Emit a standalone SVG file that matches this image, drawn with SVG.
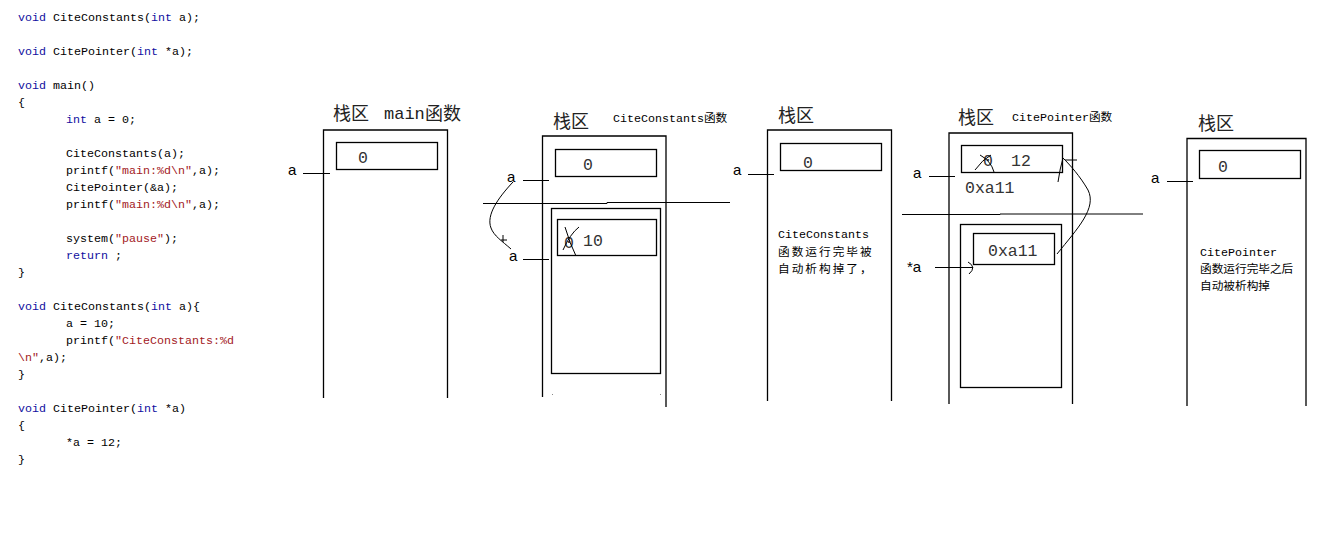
<svg xmlns="http://www.w3.org/2000/svg" width="1317" height="546" viewBox="0 0 1317 546">
<style>
.code{font-family:"Liberation Mono","Noto Sans CJK SC",monospace;font-size:11.67px;fill:#000;white-space:pre}
.kw{fill:#1010a0}
.str{fill:#a3201e}
.frame{fill:none;stroke:#000;stroke-width:1.3}
.box{fill:#fff;stroke:#000;stroke-width:1.3}
.val{font-family:"Liberation Mono",monospace;font-size:16.5px;fill:#333}
.lbl{font-family:"Liberation Sans",Arial,sans-serif;font-size:15px;fill:#000}
.title{font-family:"Noto Sans CJK SC","Noto Sans CJK JP",sans-serif;font-size:18px;fill:#222}
.sub{font-family:"Liberation Mono","Noto Sans CJK SC",monospace;font-size:11.67px;fill:#000}
.note{font-family:"Liberation Mono","Noto Sans CJK SC",monospace;font-size:11.67px;fill:#000}
.ln{fill:none;stroke:#000;stroke-width:1}
</style>
<g id="code" class="code">
<text x="18" y="21"><tspan class="kw">void</tspan> CiteConstants(<tspan class="kw">int</tspan> a);</text>
<text x="18" y="55"><tspan class="kw">void</tspan> CitePointer(<tspan class="kw">int</tspan> *a);</text>
<text x="18" y="89"><tspan class="kw">void</tspan> main()</text>
<text x="18" y="106">{</text>
<text x="66" y="123"><tspan class="kw">int</tspan> a = 0;</text>
<text x="66" y="157">CiteConstants(a);</text>
<text x="66" y="174">printf(<tspan class="str">"main:%d\n"</tspan>,a);</text>
<text x="66" y="191">CitePointer(&amp;a);</text>
<text x="66" y="208">printf(<tspan class="str">"main:%d\n"</tspan>,a);</text>
<text x="66" y="242">system(<tspan class="str">"pause"</tspan>);</text>
<text x="66" y="259"><tspan class="kw">return</tspan> ;</text>
<text x="18" y="276">}</text>
<text x="18" y="310"><tspan class="kw">void</tspan> CiteConstants(<tspan class="kw">int</tspan> a){</text>
<text x="66" y="327">a = 10;</text>
<text x="66" y="344">printf(<tspan class="str">"CiteConstants:%d</tspan></text>
<text x="18" y="361"><tspan class="str">\n"</tspan>,a);</text>
<text x="18" y="378">}</text>
<text x="18" y="412"><tspan class="kw">void</tspan> CitePointer(<tspan class="kw">int</tspan> *a)</text>
<text x="18" y="429">{</text>
<text x="66" y="446">*a = 12;</text>
<text x="18" y="463">}</text>
</g>

<g id="stack1">
<text class="title" x="333" y="120">栈区</text>
<text x="384" y="119" font-family="Liberation Mono,monospace" font-size="17" fill="#222">main</text>
<text class="title" x="425" y="120">函数</text>
<path class="frame" d="M323.5,398 V130 H447.5 V398"/>
<rect class="box" x="336.5" y="142.5" width="101" height="27"/>
<text class="val" x="358" y="163">0</text>
<text class="lbl" x="288" y="175">a</text>
</g>

<g id="stack2">
<text class="title" x="553" y="128">栈区</text>
<text class="sub" x="613" y="122">CiteConstants函数</text>
<path class="frame" d="M542.5,397 V136 H666 V407"/>
<rect class="box" x="555.5" y="149.5" width="101" height="27"/>
<text class="val" x="583" y="170">0</text>
<text class="lbl" x="507" y="182">a</text>
<rect class="frame" x="551.5" y="208.5" width="109" height="165"/>
<rect class="box" x="557.5" y="219.5" width="99" height="36"/>
<text class="val" x="564" y="248">0</text>
<text class="val" x="583" y="246">10</text>
<text class="lbl" x="509" y="261">a</text>
<rect x="552" y="394" width="1" height="1" fill="#888"/>
<rect x="660" y="394" width="1" height="1" fill="#888"/>
</g>

<g id="stack3">
<text class="title" x="778" y="122">栈区</text>
<path class="frame" d="M767.5,401 V130 H891.5 V401"/>
<rect class="box" x="780.5" y="143.5" width="101" height="27"/>
<text class="val" x="803" y="168">0</text>
<text class="lbl" x="733" y="175">a</text>
<text class="note" x="778" y="238">CiteConstants</text>
<text class="note" x="778" y="256" letter-spacing="2">函数运行完毕被</text>
<text class="note" x="778" y="273" letter-spacing="2">自动析构掉了，</text>
</g>

<g id="stack4">
<text class="title" x="958" y="124">栈区</text>
<text class="sub" x="1012" y="121">CitePointer函数</text>
<path class="frame" d="M949,404 V133 H1072.5 V404"/>
<rect class="box" x="961.5" y="145.5" width="101" height="27"/>
<text class="val" x="983" y="166">0</text>
<text class="val" x="1011" y="166">12</text>
<text class="lbl" x="913" y="178">a</text>
<text class="val" x="965" y="193">0xa11</text>
<rect class="frame" x="960.5" y="224.5" width="101" height="163"/>
<rect class="box" x="973.5" y="233.5" width="81" height="31"/>
<text class="val" x="988" y="256">0xa11</text>
<text class="lbl" x="907" y="272">*a</text>
</g>

<g id="stack5">
<text class="title" x="1198" y="130">栈区</text>
<path class="frame" d="M1187,406 V138.5 H1306 V406"/>
<rect class="box" x="1199.5" y="150.5" width="101" height="28"/>
<text class="val" x="1218" y="172">0</text>
<text class="lbl" x="1151" y="183">a</text>
<text class="note" x="1200" y="256">CitePointer</text>
<text class="note" x="1200" y="273">函数运行完毕之后</text>
<text class="note" x="1200" y="290">自动被析构掉</text>
</g>

<g id="connectors">
<line class="ln" x1="303" y1="173.5" x2="330" y2="173.5"/>
<line class="ln" x1="523" y1="180.5" x2="549" y2="180.5"/>
<line class="ln" x1="523" y1="259.5" x2="549" y2="259.5"/>
<path class="ln" d="M483,203.5 H607 V202.5 H730"/>
<path class="ln" d="M513,182 C498,198 486,215 491,228 C494,236 502,241 511,249"/>
<path class="ln" d="M501,240 H507 M503,235 V242"/>
<path class="ln" d="M563,250 Q570,234 579,227"/>
<path class="ln" d="M565,227 Q570,244 576,256"/>
<line class="ln" x1="748" y1="174.5" x2="774" y2="174.5"/>
<line class="ln" x1="929" y1="176.5" x2="955" y2="176.5"/>
<path class="ln" d="M902,214.5 H1000 V214 H1143"/>
<line class="ln" x1="935" y1="267.5" x2="973" y2="267.5"/>
<path class="ln" d="M968,262 Q977,267 969,274"/>
<path class="ln" d="M975,170 Q982,160 991,155"/>
<path class="ln" d="M980,155 Q991,161 994,172"/>
<path class="ln" d="M1057,254 C1078,228 1097,208 1088,190 C1080,176 1070,165 1063,158"/>
<path class="ln" d="M1058,182 Q1060,168 1063,158 M1065,160 H1077"/>
<line class="ln" x1="1167" y1="181.5" x2="1193" y2="181.5"/>
</g>
</svg>
